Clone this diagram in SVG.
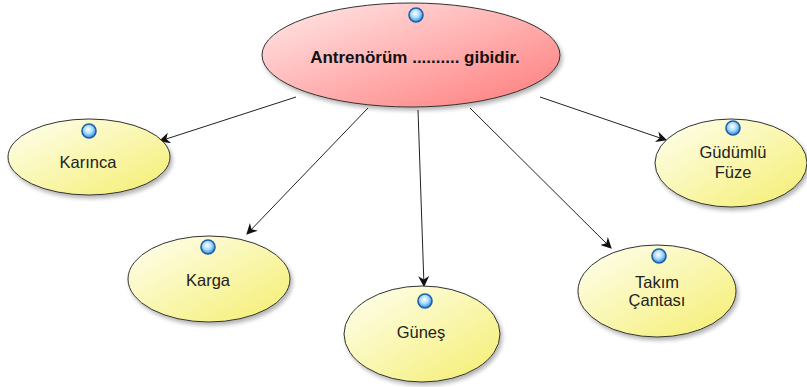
<svg xmlns="http://www.w3.org/2000/svg" width="807" height="387" viewBox="0 0 807 387">
<defs>
<linearGradient id="gRed" x1="0" y1="0" x2="1" y2="1">
<stop offset="0" stop-color="#ffeaea"/>
<stop offset="1" stop-color="#ff7a7a"/>
</linearGradient>
<linearGradient id="gYel" x1="0" y1="0" x2="1" y2="1">
<stop offset="0" stop-color="#fffff2"/>
<stop offset="1" stop-color="#f4ee6e"/>
</linearGradient>
<radialGradient id="gDot" cx="0.45" cy="0.4" r="0.6">
<stop offset="0" stop-color="#ffffff"/>
<stop offset="0.5" stop-color="#a9dcff"/>
<stop offset="1" stop-color="#2a86d6"/>
</radialGradient>
<filter id="sh" x="-10%" y="-10%" width="125%" height="130%">
<feGaussianBlur in="SourceAlpha" stdDeviation="2"/>
<feOffset dx="2" dy="3"/>
<feComponentTransfer><feFuncA type="linear" slope="0.3"/></feComponentTransfer>
<feMerge><feMergeNode/><feMergeNode in="SourceGraphic"/></feMerge>
</filter>
<marker id="arr" viewBox="0 0 10 10" refX="9" refY="5" markerWidth="11" markerHeight="11" markerUnits="userSpaceOnUse" orient="auto">
<path d="M0,0 L10,5 L0,10 L3,5 Z" fill="#111"/>
</marker>
</defs>
<style>
.red{fill:url(#gRed);stroke:#333;stroke-width:1;filter:url(#sh)}
.yel{fill:url(#gYel);stroke:#333;stroke-width:1;filter:url(#sh)}
.dot{fill:url(#gDot);stroke:#1f5fa8;stroke-width:1.6}
.t{font-family:"Liberation Sans",Arial,sans-serif;font-size:16.5px;fill:#222;text-anchor:middle}
.tb{font-family:"Liberation Sans",Arial,sans-serif;font-size:17px;font-weight:bold;fill:#111;text-anchor:middle}
.c{stroke:#222;stroke-width:1;fill:none;marker-end:url(#arr)}
</style>
<rect width="807" height="387" fill="#ffffff"/>
<g id="connectors">
<line class="c" x1="296" y1="97" x2="160" y2="141"/>
<line class="c" x1="368" y1="108" x2="247" y2="234"/>
<line class="c" x1="418" y1="110" x2="424" y2="286"/>
<line class="c" x1="470" y1="108" x2="611" y2="248"/>
<line class="c" x1="540" y1="97" x2="666" y2="140"/>
</g>
<g id="center">
<ellipse class="red" cx="411" cy="55" rx="149" ry="52"/>
<circle class="dot" cx="416" cy="15" r="7"/>
<text class="tb" x="415" y="63">Antrenörüm .......... gibidir.</text>
</g>
<g id="karinca">
<ellipse class="yel" cx="89" cy="157" rx="81" ry="38"/>
<circle class="dot" cx="89" cy="131" r="7"/>
<text class="t" x="88" y="168">Karınca</text>
</g>
<g id="karga">
<ellipse class="yel" cx="209" cy="279" rx="81" ry="43"/>
<circle class="dot" cx="208" cy="247" r="7"/>
<text class="t" x="208" y="286">Karga</text>
</g>
<g id="gunes">
<ellipse class="yel" cx="422" cy="334" rx="78" ry="48"/>
<circle class="dot" cx="425" cy="301" r="7"/>
<text class="t" x="421" y="338">Güneş</text>
</g>
<g id="takim">
<ellipse class="yel" cx="657" cy="291" rx="79" ry="46"/>
<circle class="dot" cx="659" cy="256" r="7"/>
<text class="t" x="657" y="288">Takım</text>
<text class="t" x="657" y="306">Çantası</text>
</g>
<g id="gudumlu">
<ellipse class="yel" cx="731" cy="163" rx="76" ry="44"/>
<circle class="dot" cx="733" cy="128" r="7"/>
<text class="t" x="733" y="158">Güdümlü</text>
<text class="t" x="733" y="178">Füze</text>
</g>
</svg>
